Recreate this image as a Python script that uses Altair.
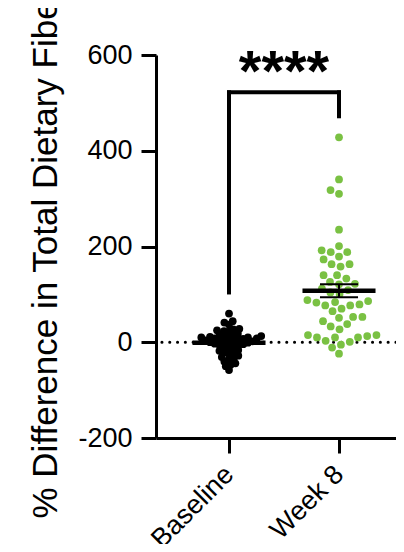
import math
import altair as alt
import pandas as pd

# ---- data ----
groups = ["Baseline", "Week 8"]
baseline_vals = [60, 44, 41, 37, 28, 27, 25, 23, 22, 18, 16, 15, 13, 12, 11, 10, 10, 9, 8, 8,
                 7, 6, 5, 4, 3, 2, 1, 0, -1, -2, -3, -4, -5, -6, -8, -10, -13, -16, -18, -20,
                 -21, -24, -28, -31, -33, -35, -40, -44, -47, -50, -58]
week8_vals = [428, 340, 318, 310, 235, 201, 192, 188, 188, 179, 173, 163, 158, 163, 140, 133,
              140, 126, 122, 121, 112, 109, 104, 101, 88, 79, 77, 83, 86, 84, 77, 65, 70, 44,
              51, 53, 53, 38, 33, 27, 10, 10, 13, 3, 15, 1, 10, 15, -5, -11, -24]
y_ticks = [-200, 0, 200, 400, 600]
sig_label = "****"
y_title = "% Difference in Total Dietary Fiber"

# ---- layout constants ----
W, H = 240, 383
PX_PER_X = 110.0
Y_DOM = [-200, 600]
X_DOM = [1 - 73 / PX_PER_X, 1 - 73 / PX_PER_X + W / PX_PER_X]
PX_PER_Y = H / (Y_DOM[1] - Y_DOM[0])
GREEN = "#7AC143"


def swarm(values, diam):
    """simple beeswarm: offsets (pixels) so points do not overlap more than allowed"""
    order = sorted(range(len(values)), key=lambda i: values[i])
    placed, offs = [], [0.0] * len(values)
    for i in order:
        y = values[i] * PX_PER_Y
        forb = []
        for xj, yj in placed:
            dy = abs(y - yj)
            if dy < diam:
                w = math.sqrt(diam * diam - dy * dy)
                forb.append((xj - w, xj + w))
        cands = [0.0] + [a for a, b in forb] + [b for a, b in forb]
        cands.sort(key=lambda c: (abs(c), c))
        x = 0.0
        for c in cands:
            if all(not (a + 1e-6 < c < b - 1e-6) for a, b in forb):
                x = c
                break
        placed.append((x, y))
        offs[i] = x
    return offs


rows = []
for gi, (g, vals, d) in enumerate([(groups[0], baseline_vals, 5.0), (groups[1], week8_vals, 9.3)]):
    offs = swarm(vals, d)
    for v, o in zip(vals, offs):
        rows.append({"group": g, "gx": gi + 1, "value": v, "xpos": gi + 1 + o / PX_PER_X})
pts = pd.DataFrame(rows)

FONT = "Liberation Sans"
xscale = alt.Scale(domain=X_DOM, nice=False, zero=False)
yscale = alt.Scale(domain=Y_DOM, nice=False, zero=False)
xaxis = alt.Axis(values=[1, 2], labelExpr="datum.value == 1 ? 'Baseline' : 'Week 8'",
                 title=None, grid=False, domainColor="black", domainWidth=3,
                 tickColor="black", tickWidth=3, tickSize=15, labelAngle=-45,
                 labelAlign="right", labelBaseline="middle", labelPadding=17,
                 labelFontSize=27, labelFont=FONT, labelColor="black")
yaxis = alt.Axis(values=y_ticks, labelExpr="toString(datum.value)",
                 title=y_title, grid=False, domainColor="black", domainWidth=3,
                 tickColor="black", tickWidth=3, tickSize=15, labelPadding=9,
                 labelFontSize=27, labelFont=FONT, labelColor="black",
                 titleFont=FONT, titleFontSize=35, titleFontWeight="normal", titleColor="black",
                 titleAngle=-90, titleX=-100, titleY=463, titleAlign="left",
                 titleBaseline="alphabetic")


def X(field):
    return alt.X(field, type="quantitative", scale=xscale, axis=xaxis)


def Y(field):
    return alt.Y(field, type="quantitative", scale=yscale, axis=yaxis)


zero_line = alt.Chart(pd.DataFrame({"v": [0]})).mark_rule(
    color="black", strokeWidth=3, strokeCap="round", strokeDash=[0.1, 7.7]
).encode(y=Y("v"))

points = alt.Chart(pts).mark_circle(size=60, opacity=1).encode(
    x=X("xpos"), y=Y("value"),
    color=alt.Color("group:N", scale=alt.Scale(domain=groups, range=["black", GREEN]), legend=None),
)

stats = alt.Chart(pts).transform_aggregate(
    mean="mean(value)", sem="stderr(value)", groupby=["group", "gx"]
).transform_calculate(
    lo="datum.mean - datum.sem", hi="datum.mean + datum.sem",
    xl="datum.gx - 0.332", xr="datum.gx + 0.332",
    cl="datum.gx - 0.173", cr="datum.gx + 0.173",
)
mean_line = stats.mark_rule(color="black", strokeWidth=4.5).encode(
    x=X("xl"), x2="xr:Q", y=Y("mean"))
err_v = stats.mark_rule(color="black", strokeWidth=2).encode(x=X("gx"), y=Y("lo"), y2="hi:Q")
cap_lo = stats.mark_rule(color="black", strokeWidth=2).encode(x=X("cl"), x2="cr:Q", y=Y("lo"))
cap_hi = stats.mark_rule(color="black", strokeWidth=2).encode(x=X("cl"), x2="cr:Q", y=Y("hi"))

# significance bracket
bracket_top = 522
bracket = pd.DataFrame({
    "x": [1, 1, 2], "x2": [2, 1, 2],
    "y": [bracket_top, 104, 472], "y2": [bracket_top, bracket_top, bracket_top],
})
bracket_layer = alt.Chart(bracket).mark_rule(color="black", strokeWidth=4, strokeCap="square").encode(
    x=X("x"), x2="x2:Q", y=Y("y"), y2="y2:Q")
stars = alt.Chart(pd.DataFrame({"x": [1.5], "y": [560], "t": [sig_label]})).mark_text(
    font=FONT, fontSize=58, fontWeight="bold", baseline="middle", align="center", color="black"
).encode(x=X("x"), y=Y("y"), text="t:N")

chart = alt.layer(
    zero_line, points, mean_line, err_v, cap_lo, cap_hi, bracket_layer, stars
).properties(
    width=W, height=H,
    autosize=alt.AutoSizeParams(type="none"),
    padding={"left": 148, "top": 47, "right": 0, "bottom": 106},
    view=alt.ViewBackground(stroke="transparent", strokeWidth=0),
).configure_view(stroke="transparent", strokeWidth=0).configure(background="white")

chart.save("out.html", embed_options={"renderer": "svg", "actions": False})
